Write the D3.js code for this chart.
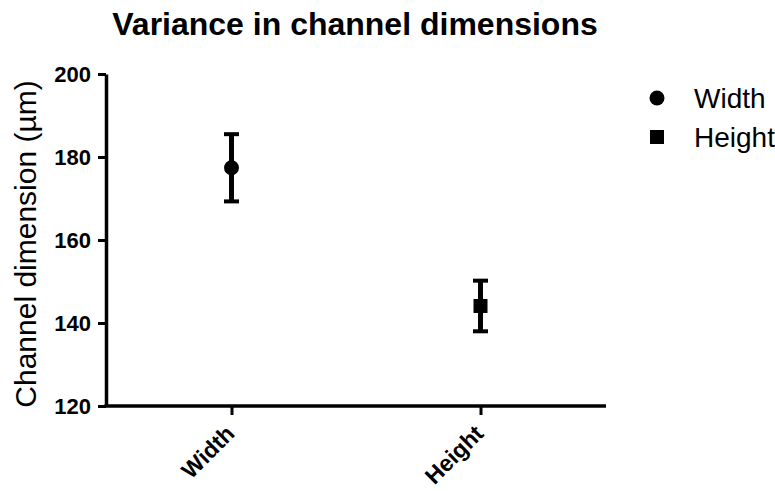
<!DOCTYPE html>
<html>
<head>
<meta charset="utf-8">
<script src="https://cdn.jsdelivr.net/npm/d3@7"></script>
<style>
  body { margin: 0; background: #fff; }
  text { font-family: "Liberation Sans", Arial, sans-serif; fill: #000; }
</style>
</head>
<body>
<div class="chart"></div>
<script>
// data
const categories = ['Width', 'Height']
const means = [177.4, 144.1]
const errors = [8.1, 6.1]
const shapes = ['circle', 'square']
const yTicks = [120, 140, 160, 180, 200]
const title = 'Variance in channel dimensions'
const yLabel = 'Channel dimension (µm)'

const W = 775, H = 491

let svg = d3.select('.chart')
    .append('svg')
    .attr('width', W)
    .attr('height', H)

let x = d3.scalePoint()
    .domain(categories)
    .range([107, 605])
    .padding(0.5)

let y = d3.scaleLinear()
    .domain([120, 200])
    .range([406, 74])

// title
svg.append('text')
    .attr('x', 355)
    .attr('y', 35)
    .attr('text-anchor', 'middle')
    .attr('font-size', 32)
    .attr('font-weight', 'bold')
    .text(title)

// y axis
let yAxis = svg.append('g')
    .attr('transform', 'translate(106,0)')
    .call(d3.axisLeft(y).tickValues(yTicks).tickSize(8).tickSizeOuter(0).tickPadding(7))
yAxis.select('.domain').attr('stroke-width', 3.5)
yAxis.selectAll('.tick line').attr('stroke-width', 3)
yAxis.selectAll('.tick text')
    .attr('font-size', 22)
    .attr('font-weight', 'bold')
    .attr('fill', '#000')

// x axis
let xAxis = svg.append('g')
    .attr('transform', 'translate(0,406)')
    .call(d3.axisBottom(x).tickSize(9).tickSizeOuter(0))
xAxis.select('.domain').attr('d', 'M104.5,0H606').attr('stroke-width', 3.5)
xAxis.selectAll('.tick line').attr('stroke-width', 3)
xAxis.selectAll('.tick text')
    .attr('font-size', 23)
    .attr('font-weight', 'bold')
    .attr('fill', '#000')
    .attr('text-anchor', 'end')
    .attr('x', 0)
    .attr('y', 0)
    .attr('dy', 0)
    .attr('transform', 'translate(4,29) rotate(-45)')

// y label
svg.append('text')
    .attr('transform', 'translate(36,244) rotate(-90)')
    .attr('text-anchor', 'middle')
    .attr('font-size', 30)
    .text(yLabel)

// error bars
let g = svg.append('g')
categories.forEach((c, i) => {
    let cx = x(c)
    let top = y(means[i] + errors[i])
    let bot = y(means[i] - errors[i])
    g.append('line')
        .attr('x1', cx).attr('x2', cx)
        .attr('y1', top).attr('y2', bot)
        .attr('stroke', '#000')
        .attr('stroke-width', 5)
    ;[top, bot].forEach(yy => {
        g.append('line')
            .attr('x1', cx - 7.5).attr('x2', cx + 7.5)
            .attr('y1', yy).attr('y2', yy)
            .attr('stroke', '#000')
            .attr('stroke-width', 4)
    })
    drawMarker(g, shapes[i], cx, y(means[i]))
})

function drawMarker(sel, shape, cx, cy) {
    if (shape === 'circle') {
        sel.append('circle')
            .attr('cx', cx).attr('cy', cy).attr('r', 7.5)
            .attr('fill', '#000')
    } else {
        sel.append('rect')
            .attr('x', cx - 7).attr('y', cy - 7)
            .attr('width', 14).attr('height', 14)
            .attr('fill', '#000')
    }
}

// legend
let legend = svg.append('g')
categories.forEach((c, i) => {
    let ly = 98 + i * 39
    drawMarker(legend, shapes[i], 657, ly)
    legend.append('text')
        .attr('x', 694)
        .attr('y', ly + 10)
        .attr('font-size', 28)
        .text(c)
})
</script>
</body>
</html>
